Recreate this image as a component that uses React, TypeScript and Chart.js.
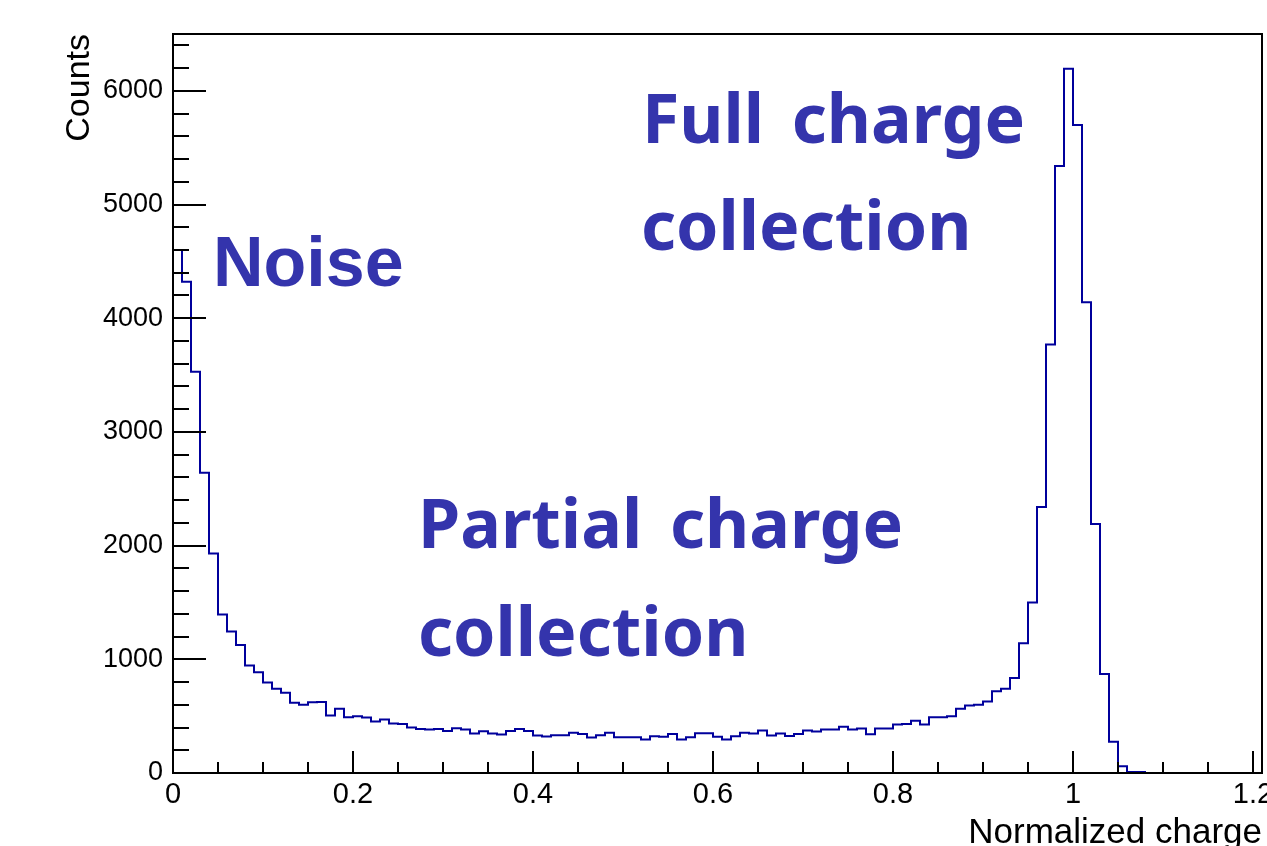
import React, { useEffect, useRef } from 'react';
import { Chart, registerables } from 'chart.js';

Chart.register(...registerables);

// Lower edges of the histogram bins (bin width 0.01)
const binLowEdges = [
  0.00, 0.01, 0.02, 0.03, 0.04, 0.05, 0.06, 0.07, 0.08, 0.09,
  0.10, 0.11, 0.12, 0.13, 0.14, 0.15, 0.16, 0.17, 0.18, 0.19,
  0.20, 0.21, 0.22, 0.23, 0.24, 0.25, 0.26, 0.27, 0.28, 0.29,
  0.30, 0.31, 0.32, 0.33, 0.34, 0.35, 0.36, 0.37, 0.38, 0.39,
  0.40, 0.41, 0.42, 0.43, 0.44, 0.45, 0.46, 0.47, 0.48, 0.49,
  0.50, 0.51, 0.52, 0.53, 0.54, 0.55, 0.56, 0.57, 0.58, 0.59,
  0.60, 0.61, 0.62, 0.63, 0.64, 0.65, 0.66, 0.67, 0.68, 0.69,
  0.70, 0.71, 0.72, 0.73, 0.74, 0.75, 0.76, 0.77, 0.78, 0.79,
  0.80, 0.81, 0.82, 0.83, 0.84, 0.85, 0.86, 0.87, 0.88, 0.89,
  0.90, 0.91, 0.92, 0.93, 0.94, 0.95, 0.96, 0.97, 0.98, 0.99,
  1.00, 1.01, 1.02, 1.03, 1.04, 1.05, 1.06, 1.07,
];
const histUpperEdge = 1.08;

// Counts per bin
const counts = [
  4600, 4320, 3530, 2640, 1930, 1395, 1245, 1125, 945, 886,
  795, 742, 706, 618, 600, 622, 624, 506, 565, 491,
  500, 488, 453, 470, 435, 430, 400, 388, 382, 388,
  370, 394, 382, 347, 368, 347, 338, 370, 388, 370,
  330, 320, 332, 332, 353, 344, 312, 332, 353, 315,
  315, 315, 294, 324, 318, 344, 294, 315, 350, 350,
  318, 294, 324, 353, 347, 374, 330, 347, 326, 344,
  374, 365, 382, 382, 406, 382, 391, 341, 391, 391,
  426, 432, 459, 426, 491, 491, 500, 565, 594, 600,
  629, 720, 741, 835, 1141, 1500, 2340, 3770, 5340, 6195,
  5700, 4140, 2190, 870, 274, 59, 9, 9,
];

const xTickValues = [0, 0.2, 0.4, 0.6, 0.8, 1.0, 1.2];
const xTickLabels = ['0', '0.2', '0.4', '0.6', '0.8', '1', '1.2'];
const xMinorTicks = [0.05, 0.1, 0.15, 0.25, 0.3, 0.35, 0.45, 0.5, 0.55, 0.65, 0.7, 0.75, 0.85, 0.9, 0.95, 1.05, 1.1, 1.15];

const yTickValues = [0, 1000, 2000, 3000, 4000, 5000, 6000];
const yTickLabels = ['0', '1000', '2000', '3000', '4000', '5000', '6000'];
const yMinorTicks = [200, 400, 600, 800, 1200, 1400, 1600, 1800, 2200, 2400, 2600, 2800, 3200, 3400, 3600, 3800, 4200, 4400, 4600, 4800, 5200, 5400, 5600, 5800, 6200, 6400];

const xRange = [0, 1.21];
const yRange = [0, 6500];

const xTitle = 'Normalized charge';
const yTitle = 'Counts';

const noteTexts = ['Noise', 'Full charge', 'collection', 'Partial charge', 'collection'];

const W = 1267;
const H = 846;

export default function App() {
  const canvasRef = useRef<HTMLCanvasElement | null>(null);

  useEffect(() => {
    document.body.style.margin = '0';
    const canvas = canvasRef.current;
    if (!canvas) return;

    const points = binLowEdges.map((e, i) => ({ x: e, y: counts[i] }));
    points.push({ x: histUpperEdge, y: 0 });

    const notes = [
      { text: noteTexts[0], x: 213, y: 286, font: 'bold 70px "Liberation Sans", Arial, sans-serif' },
      { text: noteTexts[1], x: 642, y: 143, font: 'bold 68px "Noto Sans", sans-serif' },
      { text: noteTexts[2], x: 641, y: 250, font: 'bold 68px "Noto Sans", sans-serif' },
      { text: noteTexts[3], x: 418, y: 548, font: 'bold 68px "Noto Sans", sans-serif' },
      { text: noteTexts[4], x: 418, y: 656, font: 'bold 68px "Noto Sans", sans-serif' },
    ];

    const framePlugin = {
      id: 'rootFrame',
      afterDatasetsDraw(chart: any) {
        const { ctx, chartArea, scales } = chart;
        const { left, right, top, bottom } = chartArea;
        const xs = scales.x;
        const ys = scales.y;
        ctx.save();
        ctx.strokeStyle = '#000';
        ctx.lineWidth = 2;
        ctx.beginPath();
        ctx.rect(left, top, right - left, bottom - top);
        ctx.stroke();
        ctx.beginPath();
        xTickValues.forEach((v) => {
          const px = Math.round(xs.getPixelForValue(v));
          ctx.moveTo(px, bottom);
          ctx.lineTo(px, bottom - 22);
        });
        xMinorTicks.forEach((v) => {
          const px = Math.round(xs.getPixelForValue(v));
          ctx.moveTo(px, bottom);
          ctx.lineTo(px, bottom - 11);
        });
        yTickValues.forEach((v) => {
          const py = Math.round(ys.getPixelForValue(v));
          ctx.moveTo(left, py);
          ctx.lineTo(left + 33, py);
        });
        yMinorTicks.forEach((v) => {
          const py = Math.round(ys.getPixelForValue(v));
          ctx.moveTo(left, py);
          ctx.lineTo(left + 16, py);
        });
        ctx.stroke();
        ctx.restore();
      },
      afterDraw(chart: any) {
        const { ctx } = chart;
        ctx.save();
        ctx.fillStyle = '#3434ac';
        ctx.textAlign = 'left';
        ctx.textBaseline = 'alphabetic';
        try {
          (ctx as any).wordSpacing = '10px';
        } catch (e) {
          /* ignore */
        }
        notes.forEach((n) => {
          ctx.font = n.font;
          ctx.fillText(n.text, n.x, n.y);
        });
        ctx.restore();
      },
    };

    const chart = new Chart(canvas, {
      type: 'line',
      data: {
        datasets: [
          {
            data: points,
            borderColor: '#00009c',
            borderWidth: 2,
            pointRadius: 0,
            fill: false,
            stepped: 'before',
            tension: 0,
          },
        ],
      },
      options: {
        responsive: false,
        animation: false,
        devicePixelRatio: 1,
        layout: { padding: { left: 0, right: 5, top: 34, bottom: 0 } },
        plugins: {
          legend: { display: false },
          tooltip: { enabled: false },
        },
        scales: {
          x: {
            type: 'linear',
            min: xRange[0],
            max: xRange[1],
            grid: { display: false, drawTicks: false },
            border: { display: false },
            ticks: {
              color: '#000',
              font: { family: '"Liberation Sans", Arial, sans-serif', size: 29 },
              padding: 5,
              maxRotation: 0,
              autoSkip: false,
              callback: (v: any) => {
                const i = xTickValues.findIndex((t) => Math.abs(t - Number(v)) < 1e-6);
                return i >= 0 ? xTickLabels[i] : '';
              },
            },
            afterBuildTicks: (s: any) => {
              s.ticks = xTickValues.map((v) => ({ value: v }));
            },
            afterFit: (s: any) => {
              s.height = H - 773;
              s.paddingLeft = 0;
              s.paddingRight = 0;
            },
            title: {
              display: true,
              text: xTitle,
              align: 'end',
              color: '#000',
              font: { family: '"Liberation Sans", Arial, sans-serif', size: 35, lineHeight: 0.7 },
              padding: { top: 0, bottom: 0 },
            },
          },
          y: {
            type: 'linear',
            min: yRange[0],
            max: yRange[1],
            grid: { display: false, drawTicks: false },
            border: { display: false },
            ticks: {
              color: '#000',
              font: { family: '"Liberation Sans", Arial, sans-serif', size: 27 },
              padding: 10,
              autoSkip: false,
              callback: (v: any) => {
                const i = yTickValues.findIndex((t) => Math.abs(t - Number(v)) < 1e-6);
                return i >= 0 ? yTickLabels[i] : '';
              },
            },
            afterBuildTicks: (s: any) => {
              s.ticks = yTickValues.map((v) => ({ value: v }));
            },
            afterFit: (s: any) => {
              s.width = 173;
              s.paddingTop = 0;
              s.paddingBottom = 0;
            },
            title: {
              display: true,
              text: yTitle,
              align: 'end',
              color: '#000',
              font: { family: '"Liberation Sans", Arial, sans-serif', size: 34, lineHeight: 1 },
              padding: { top: 63, bottom: 0 },
            },
          },
        },
      } as any,
      plugins: [framePlugin],
    });

    return () => {
      chart.destroy();
    };
  }, []);

  return (
    <div style={{ width: W, height: H, position: 'relative', background: '#fff' }}>
      <canvas ref={canvasRef} width={W} height={H} style={{ display: 'block' }} />
    </div>
  );
}
